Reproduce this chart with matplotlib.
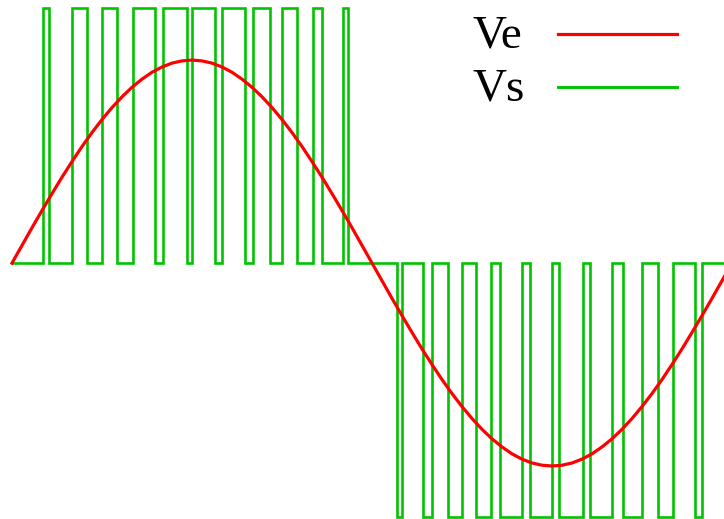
import numpy as np
import matplotlib
matplotlib.use("Agg")
import matplotlib.pyplot as plt

# reference signal Ve, read every 5 degrees (amplitude 1)
ve_angle = list(range(0, 365, 5))
ve_half = [0.000, 0.087, 0.174, 0.259, 0.342, 0.423, 0.500, 0.574, 0.643,
           0.707, 0.766, 0.819, 0.866, 0.906, 0.940, 0.966, 0.985, 0.996,
           1.000, 0.996, 0.985, 0.966, 0.940, 0.906, 0.866, 0.819, 0.766,
           0.707, 0.643, 0.574, 0.500, 0.423, 0.342, 0.259, 0.174, 0.087]
ve_value = ve_half + [-v for v in ve_half] + [0.000]

# PWM output Vs: pulse edges in degrees
pos_pulses = [(15.5, 18.5), (30, 37.5), (45, 52.5), (60.5, 71.5), (75.5, 87.5),
              (90, 101.5), (105, 116.5), (120.5, 129), (135, 142.5),
              (150.5, 155), (165.5, 168)]
neg_pulses = [(192.5, 195), (205.5, 210), (218, 225), (232, 239.5), (244, 255),
              (259, 270), (273.5, 285.5), (289, 300), (305.5, 315),
              (323, 330.5), (341.5, 345)]
vs_high = 1.255
vs_low = -1.25
vs_end = 356

labels = ["Ve", "Vs"]
colors = ["#ff0000", "#00c400"]

# build the step trace
xs = [0]
ys = [0]
for pulses, level in [(pos_pulses, vs_high), (neg_pulses, vs_low)]:
    for a, b in pulses:
        xs += [a, a, b, b]
        ys += [0, level, level, 0]
xs.append(vs_end)
ys.append(0)

fig = plt.figure(figsize=(7.24, 5.19), dpi=100)
ax = fig.add_axes([0, 0, 1, 1])

ax.plot(xs, ys, color=colors[1], lw=1.9, solid_joinstyle="miter")
ax.plot(ve_angle, ve_value, color=colors[0], lw=2.3)

ax.set_xlim(-6, 356)
ax.set_ylim(-1.261, 1.296)
ax.axis("off")

# legend: label then sample line
for i, (lab, col) in enumerate(zip(labels, colors)):
    yb = 0.9094 - i * 0.1021
    ax.text(0.653, yb, lab, transform=ax.transAxes, fontsize=34,
            family="Liberation Serif", va="baseline", ha="left")
    ax.plot([0.7707, 0.9351], [yb + 0.0251, yb + 0.0251], color=col,
            lw=2.3 if i == 0 else 2.1, transform=ax.transAxes)

fig.savefig("out.png", dpi=100)
